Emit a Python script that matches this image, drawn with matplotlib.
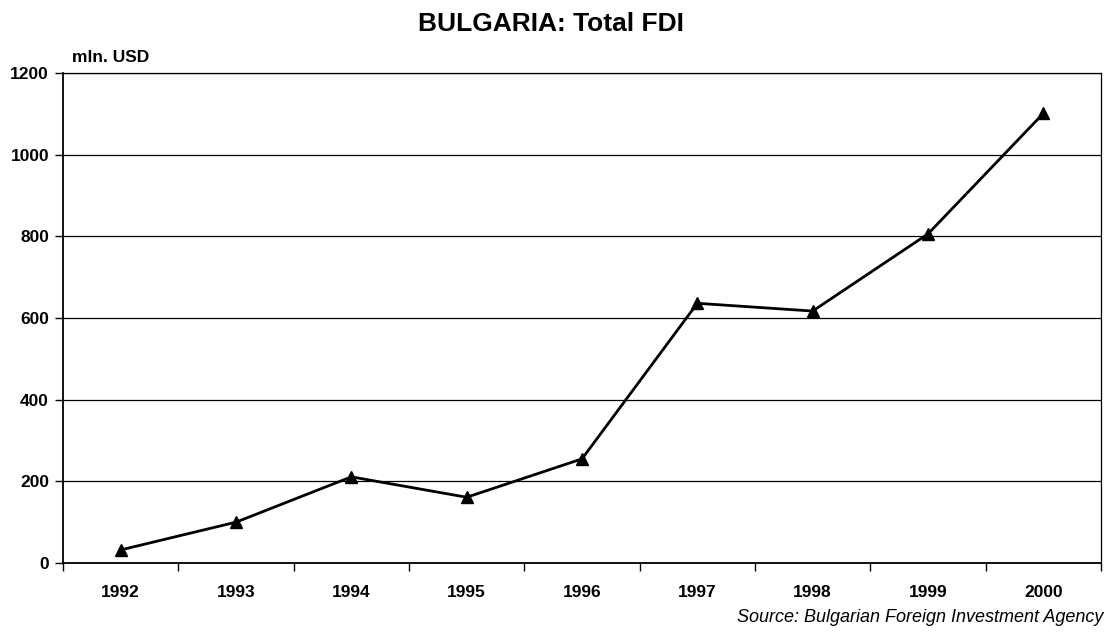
import numpy as np
import matplotlib.pyplot as plt

years = ['1992', '1993', '1994', '1995', '1996', '1997', '1998', '1999', '2000']
fdi = [32, 100, 211, 161, 255, 636, 617, 806, 1101]

plt.rcParams['font.family'] = ['Liberation Sans', 'DejaVu Sans']

fig = plt.figure(figsize=(11.06, 6.35), dpi=100)
ax = fig.add_axes([63 / 1106, 1 - 563 / 635, (1101 - 63) / 1106, (563 - 73) / 635])

x = np.arange(len(years))
ax.plot(x, fdi, color='black', lw=2, marker='^', markersize=8, zorder=3)

ax.set_xlim(-0.5, len(years) - 0.5)
ax.set_ylim(0, 1200)
ax.set_yticks(np.arange(0, 1201, 200))
ax.yaxis.grid(True, color='black', lw=0.9)
ax.set_axisbelow(True)

ax.set_xticks(x)
ax.set_xticklabels(years, fontweight='bold', fontsize=12.5)
ax.set_xticks(np.arange(-0.5, len(years), 1), minor=True)
ax.tick_params(axis='x', which='major', length=0, pad=16)
ax.tick_params(axis='x', which='minor', length=6, width=1, direction='out')
ax.tick_params(axis='y', length=6, width=1, direction='out', labelsize=12.5, pad=4)
for lab in ax.get_yticklabels():
    lab.set_fontweight('bold')

for s in ['left', 'bottom']:
    ax.spines[s].set_linewidth(1.3)
for s in ['top', 'right']:
    ax.spines[s].set_linewidth(0.9)

fig.text(551 / 1106, 1 - 24 / 635, 'BULGARIA: Total FDI', ha='center', va='center',
         fontsize=19, fontweight='bold')
fig.text(72 / 1106, 1 - 58 / 635, 'mln. USD', ha='left', va='center',
         fontsize=12.5, fontweight='bold')
fig.text(1103 / 1106, 1 - 617 / 635, 'Source: Bulgarian Foreign Investment Agency',
         ha='right', va='center', fontsize=13, fontstyle='italic')

fig.savefig('out.png', dpi=100)
